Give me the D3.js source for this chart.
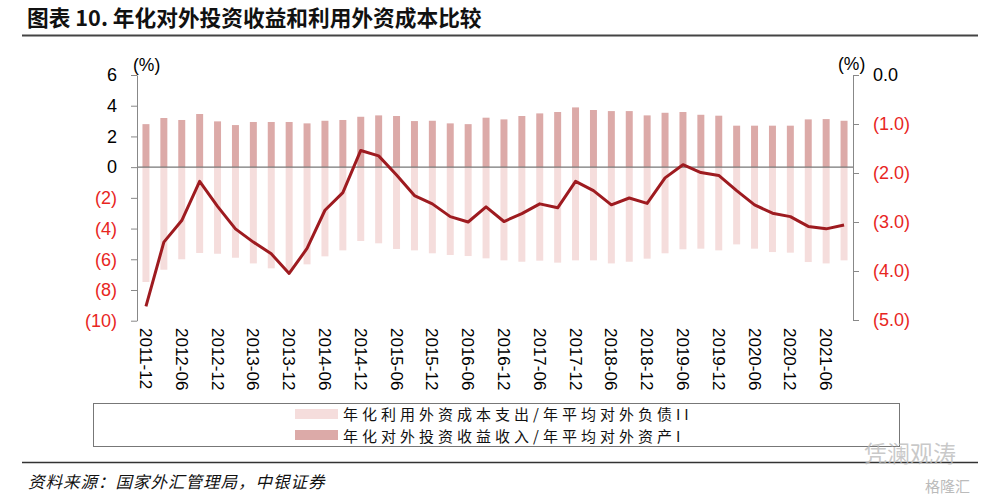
<!DOCTYPE html>
<html><head><meta charset="utf-8">
<script src="https://cdn.jsdelivr.net/npm/d3@7/dist/d3.min.js"></script>
<style>
html,body{margin:0;padding:0;background:#fff;}
svg{display:block;}
</style></head>
<body>
<svg id="c" width="993" height="500"></svg>
<script>
const categories = ["2011-12","2012-03","2012-06","2012-09","2012-12","2013-03","2013-06","2013-09","2013-12","2014-03",
 "2014-06","2014-09","2014-12","2015-03","2015-06","2015-09","2015-12","2016-03","2016-06","2016-09",
 "2016-12","2017-03","2017-06","2017-09","2017-12","2018-03","2018-06","2018-09","2018-12","2019-03",
 "2019-06","2019-09","2019-12","2020-03","2020-06","2020-09","2020-12","2021-03","2021-06","2021-09"];
// 年化对外投资收益收入/年平均对外资产 (left axis)
const incomeRate = [2.80,3.20,3.07,3.46,2.98,2.74,2.94,2.94,2.94,2.85,
 3.02,3.07,3.28,3.37,3.33,3.00,3.02,2.85,2.80,3.22,
 3.11,3.33,3.50,3.59,3.89,3.72,3.65,3.65,3.37,3.54,
 3.59,3.41,3.35,2.70,2.70,2.70,2.70,3.11,3.13,3.02];
// 年化利用外资成本支出/年平均对外负债 (left axis, shown negative)
const costRate = [-7.48,-6.68,-6.00,-5.59,-5.64,-5.90,-6.27,-6.59,-6.80,-6.33,
 -5.81,-5.42,-4.81,-4.96,-5.33,-5.42,-5.61,-5.72,-5.79,-5.94,
 -6.07,-6.16,-6.09,-6.22,-6.07,-6.07,-6.27,-6.16,-5.96,-5.61,
 -5.35,-5.31,-5.42,-5.03,-5.31,-5.53,-5.57,-6.18,-6.27,-6.07];
// 差额 (right axis)
const spread = [-4.72,-3.41,-2.97,-2.17,-2.68,-3.14,-3.41,-3.65,-4.05,-3.54,
 -2.76,-2.40,-1.54,-1.65,-2.04,-2.46,-2.63,-2.89,-3.00,-2.69,
 -2.99,-2.83,-2.63,-2.71,-2.17,-2.36,-2.65,-2.51,-2.62,-2.10,
 -1.83,-1.99,-2.05,-2.36,-2.65,-2.82,-2.89,-3.09,-3.14,-3.06];
const xTickLabels = ["2011-12","2012-06","2012-12","2013-06","2013-12","2014-06","2014-12","2015-06","2015-12","2016-06",
 "2016-12","2017-06","2017-12","2018-06","2018-12","2019-06","2019-12","2020-06","2020-12","2021-06"];
const leftTicks = [6,4,2,0,-2,-4,-6,-8,-10];
const rightTicks = [0,-1,-2,-3,-4,-5];
const legendLabels = ["年化利用外资成本支出/年平均对外负债II","年化对外投资收益收入/年平均对外资产I"];
const titleText = "图表 10. 年化对外投资收益和利用外资成本比较";
const sourceText = "资料来源：国家外汇管理局，中银证券";

const svg = d3.select("#c");
const RED = "#e8261f", LINE = "#9e1b20", DARK = "#dcaaa8", LIGHT = "#f5dddc";
const cjk = "'Noto Sans CJK SC', sans-serif";
const latin = "'Liberation Sans', Arial, sans-serif";

const x = d3.scaleBand().domain(categories).range([137, 853]).paddingInner(0.61).paddingOuter(0.305);
const yL = d3.scaleLinear().domain([-10, 6]).range([320.7, 75]);
const yR = d3.scaleLinear().domain([-5, 0]).range([320, 75]);

// title
svg.append("text").attr("x", 27).attr("y", 26).attr("font-family", cjk).attr("font-weight", "bold")
  .attr("font-size", 21.7).attr("fill", "#111").text(titleText);
svg.append("line").attr("x1", 22).attr("x2", 978).attr("y1", 35.5).attr("y2", 35.5).attr("stroke", "#444").attr("stroke-width", 2);

// bars
svg.append("g").selectAll("rect").data(categories).join("rect")
  .attr("x", d => x(d)).attr("width", x.bandwidth())
  .attr("y", (d, i) => yL(0)).attr("height", (d, i) => yL(costRate[i]) - yL(0))
  .attr("fill", LIGHT);
svg.append("g").selectAll("rect").data(categories).join("rect")
  .attr("x", d => x(d)).attr("width", x.bandwidth())
  .attr("y", (d, i) => yL(incomeRate[i])).attr("height", (d, i) => yL(0) - yL(incomeRate[i]))
  .attr("fill", DARK);

// zero line
svg.append("line").attr("x1", 137).attr("x2", 853).attr("y1", yL(0)).attr("y2", yL(0))
  .attr("stroke", "#777").attr("stroke-width", 1.3);

// line
const line = d3.line().x((d, i) => x(categories[i]) + x.bandwidth() / 2).y(d => yR(d));
svg.append("path").datum(spread).attr("d", line).attr("fill", "none").attr("stroke", LINE)
  .attr("stroke-width", 3).attr("stroke-linejoin", "round");

const fmtL = v => v < 0 ? "(" + Math.abs(v) + ")" : String(v);
const fmtR = v => v < 0 ? "(" + Math.abs(v).toFixed(1) + ")" : v.toFixed(1);

// left axis
const gL = svg.append("g").attr("transform", "translate(137,0)")
  .call(d3.axisLeft(yL).tickValues(leftTicks).tickFormat(fmtL).tickSize(6).tickSizeOuter(0).tickPadding(14));
gL.select(".domain").attr("stroke", "#888");
gL.selectAll(".tick line").attr("stroke", "#888");
gL.selectAll(".tick text").attr("font-family", latin).attr("font-size", 18)
  .attr("fill", d => d < 0 ? RED : "#000");

// right axis
const gR = svg.append("g").attr("transform", "translate(853,0)")
  .call(d3.axisRight(yR).tickValues(rightTicks).tickFormat(fmtR).tickSize(6).tickSizeOuter(0).tickPadding(14));
gR.select(".domain").attr("stroke", "#888");
gR.selectAll(".tick line").attr("stroke", "#888");
gR.selectAll(".tick text").attr("font-family", latin).attr("font-size", 18)
  .attr("fill", d => d < 0 ? RED : "#000");

// unit labels
svg.append("text").attr("x", 133).attr("y", 71).attr("font-family", latin).attr("font-size", 17.5).text("(%)");
svg.append("text").attr("x", 838).attr("y", 70).attr("font-family", latin).attr("font-size", 17.5).text("(%)");

// x labels (rotated)
const gX = svg.append("g").attr("transform", "translate(0,320)")
  .call(d3.axisBottom(x).tickValues(xTickLabels).tickSize(0).tickPadding(0));
gX.select(".domain").remove();
gX.selectAll(".tick text").attr("font-family", latin).attr("font-size", 17).attr("fill", "#000")
  .attr("transform", "rotate(90)").attr("text-anchor", "start").attr("x", 8).attr("y", 0).attr("dy", "0.35em");

// legend
svg.append("rect").attr("x", 93.5).attr("y", 403.5).attr("width", 806).attr("height", 43)
  .attr("fill", "none").attr("stroke", "#777").attr("stroke-width", 1);
const legColors = [LIGHT, DARK];
legendLabels.forEach((t, i) => {
  svg.append("rect").attr("x", 295).attr("y", 409 + i * 21).attr("width", 43).attr("height", 10).attr("fill", legColors[i]);
  svg.append("text").attr("x", 343).attr("y", 420 + i * 22).attr("font-family", cjk).attr("font-size", 15)
    .attr("letter-spacing", 4).attr("fill", "#111").text(t);
});

// footer
svg.append("line").attr("x1", 22).attr("x2", 978).attr("y1", 462.5).attr("y2", 462.5).attr("stroke", "#333").attr("stroke-width", 1.5);
svg.append("text").attr("x", 28).attr("y", 488).attr("font-family", cjk).attr("font-size", 16.5)
  .attr("font-style", "italic").attr("letter-spacing", 1).attr("fill", "#111").text(sourceText);

// watermark
svg.append("text").attr("x", 864).attr("y", 462).attr("font-family", cjk).attr("font-size", 23)
  .attr("fill", "#bbb").attr("fill-opacity", 0.8).text("凭澜观涛");
svg.append("text").attr("x", 925).attr("y", 492).attr("font-family", cjk).attr("font-size", 15)
  .attr("fill", "#bbb").text("格隆汇");
</script>
</body></html>
